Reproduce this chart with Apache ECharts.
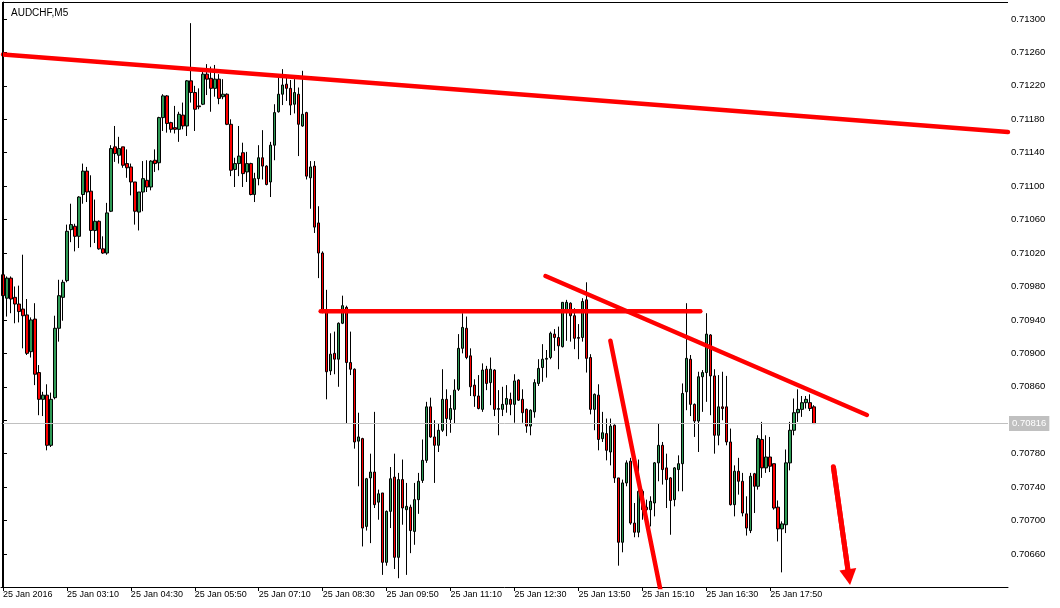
<!DOCTYPE html>
<html><head><meta charset="utf-8">
<script src="https://cdn.jsdelivr.net/npm/echarts@6/dist/echarts.min.js"></script>
<style>html,body{margin:0;padding:0;background:#fff}#c{width:1060px;height:608px}</style>
</head><body><div id="c"></div>
<script>
// ---- data ----
const symbolTitle = 'AUDCHF,M5';
const startMinutes = 110;          // 01:50, first bar
const barMinutes = 5;
const slotCount = 252;             // visible bar slots (204 bars + empty space on the right)
const tickLabels = ['25 Jan 2016','25 Jan 03:10','25 Jan 04:30','25 Jan 05:50','25 Jan 07:10','25 Jan 08:30',
  '25 Jan 09:50','25 Jan 11:10','25 Jan 12:30','25 Jan 13:50','25 Jan 15:10','25 Jan 16:30','25 Jan 17:50'];
const tickEvery = 16;
const yTicks = [0.70660,0.70700,0.70740,0.70780,0.70820,0.70860,0.70900,0.70940,0.70980,0.71020,0.71060,0.71100,0.71140,0.71180,0.71220,0.71260,0.71300];
const yMin = 0.706205, yMax = 0.713203;
const priceNow = 0.70816;

const opens = [0.70994,0.70966,0.70990,0.70967,0.70959,0.70953,0.70946,0.70902,0.70941,0.70877,
0.70845,0.70850,0.70790,0.70847,0.70930,0.70967,0.70987,0.71048,0.71052,0.71040,
0.71090,0.71118,0.71094,0.71047,0.71058,0.71025,0.71020,0.71070,0.71147,0.71137,
0.71147,0.71127,0.71123,0.71105,0.71069,0.71093,0.71107,0.71099,0.71131,0.71128,
0.71182,0.71208,0.71176,0.71170,0.71168,0.71185,0.71172,0.71226,0.71212,0.71196,
0.71198,0.71234,0.71229,0.71217,0.71228,0.71207,0.71210,0.71174,0.71120,0.71127,
0.71140,0.71117,0.71127,0.71090,0.71109,0.71134,0.71124,0.71105,0.71149,0.71189,
0.71210,0.71222,0.71217,0.71198,0.71210,0.71172,0.71188,0.71110,0.71124,0.71056,
0.71020,0.70951,0.70879,0.70900,0.70893,0.70936,0.70955,0.70889,0.70881,0.70795,
0.70798,0.70693,0.70751,0.70758,0.70722,0.70733,0.70650,0.70711,0.70752,0.70656,
0.70749,0.70713,0.70716,0.70687,0.70725,0.70748,0.70772,0.70836,0.70800,0.70790,
0.70808,0.70845,0.70821,0.70833,0.70857,0.70906,0.70930,0.70897,0.70862,0.70849,
0.70833,0.70881,0.70865,0.70880,0.70833,0.70833,0.70839,0.70845,0.70839,0.70868,
0.70845,0.70833,0.70813,0.70830,0.70864,0.70883,0.70893,0.70895,0.70923,0.70919,
0.70908,0.70950,0.70960,0.70945,0.70919,0.70919,0.70964,0.70895,0.70833,0.70850,
0.70798,0.70804,0.70782,0.70814,0.70751,0.70674,0.70745,0.70771,0.70697,0.70686,
0.70735,0.70716,0.70713,0.70721,0.70769,0.70790,0.70763,0.70751,0.70725,0.70761,
0.70768,0.70854,0.70893,0.70839,0.70819,0.70872,0.70877,0.70922,0.70873,0.70802,
0.70836,0.70836,0.70794,0.70719,0.70759,0.70747,0.70708,0.70688,0.70756,0.70741,
0.70797,0.70763,0.70776,0.70768,0.70716,0.70690,0.70695,0.70769,0.70808,0.70829,
0.70833,0.70841,0.70841,0.70836];
const closes = [0.70969,0.70990,0.70965,0.70959,0.70950,0.70945,0.70900,0.70940,0.70875,0.70845,
0.70850,0.70790,0.70845,0.70930,0.70969,0.70985,0.71046,0.71054,0.71040,0.71087,
0.71118,0.71093,0.71047,0.71058,0.71025,0.71020,0.71068,0.71145,0.71139,0.71145,
0.71125,0.71122,0.71105,0.71070,0.71093,0.71109,0.71099,0.71130,0.71127,0.71182,
0.71208,0.71175,0.71168,0.71168,0.71186,0.71172,0.71226,0.71212,0.71192,0.71195,
0.71234,0.71228,0.71217,0.71228,0.71205,0.71210,0.71174,0.71119,0.71127,0.71136,
0.71115,0.71127,0.71090,0.71109,0.71134,0.71124,0.71102,0.71149,0.71188,0.71210,
0.71221,0.71217,0.71197,0.71212,0.71174,0.71186,0.71112,0.71123,0.71051,0.71020,
0.70951,0.70878,0.70899,0.70893,0.70936,0.70957,0.70889,0.70881,0.70794,0.70800,
0.70691,0.70750,0.70758,0.70719,0.70732,0.70650,0.70711,0.70750,0.70656,0.70749,
0.70715,0.70717,0.70688,0.70725,0.70747,0.70772,0.70836,0.70800,0.70790,0.70808,
0.70845,0.70822,0.70834,0.70856,0.70906,0.70931,0.70895,0.70860,0.70849,0.70834,
0.70880,0.70864,0.70881,0.70833,0.70834,0.70839,0.70846,0.70839,0.70867,0.70844,
0.70829,0.70813,0.70832,0.70865,0.70882,0.70893,0.70894,0.70924,0.70919,0.70909,
0.70961,0.70961,0.70945,0.70918,0.70918,0.70962,0.70894,0.70833,0.70851,0.70797,
0.70805,0.70784,0.70813,0.70751,0.70674,0.70745,0.70769,0.70697,0.70686,0.70735,
0.70713,0.70713,0.70723,0.70769,0.70790,0.70761,0.70749,0.70724,0.70763,0.70768,
0.70852,0.70894,0.70839,0.70819,0.70872,0.70877,0.70923,0.70873,0.70802,0.70836,
0.70834,0.70794,0.70719,0.70759,0.70747,0.70709,0.70691,0.70753,0.70741,0.70798,
0.70763,0.70776,0.70765,0.70715,0.70690,0.70696,0.70769,0.70808,0.70829,0.70833,
0.70841,0.70845,0.70834,0.70816];
const lows = [0.70962,0.70944,0.70948,0.70936,0.70937,0.70906,0.70898,0.70895,0.70862,0.70826,
0.70825,0.70784,0.70788,0.70845,0.70914,0.70939,0.70985,0.71033,0.71022,0.71026,
0.71079,0.71081,0.71027,0.71032,0.71024,0.71019,0.71018,0.71069,0.71129,0.71127,
0.71122,0.71110,0.71089,0.71054,0.71047,0.71070,0.71093,0.71095,0.71117,0.71119,
0.71166,0.71164,0.71164,0.71163,0.71153,0.71168,0.71160,0.71200,0.71166,0.71192,
0.71197,0.71209,0.71189,0.71207,0.71198,0.71204,0.71173,0.71112,0.71099,0.71112,
0.71099,0.71105,0.71089,0.71081,0.71101,0.71108,0.71101,0.71087,0.71131,0.71188,
0.71197,0.71202,0.71185,0.71187,0.71136,0.71171,0.71108,0.71073,0.71044,0.70990,
0.70948,0.70845,0.70874,0.70875,0.70860,0.70935,0.70816,0.70874,0.70786,0.70741,
0.70669,0.70688,0.70673,0.70715,0.70701,0.70635,0.70646,0.70691,0.70642,0.70631,
0.70695,0.70635,0.70661,0.70671,0.70708,0.70745,0.70769,0.70799,0.70745,0.70782,
0.70806,0.70801,0.70805,0.70816,0.70855,0.70900,0.70893,0.70849,0.70836,0.70833,
0.70830,0.70856,0.70838,0.70825,0.70802,0.70825,0.70829,0.70826,0.70817,0.70843,
0.70817,0.70805,0.70802,0.70823,0.70861,0.70866,0.70871,0.70893,0.70903,0.70881,
0.70907,0.70915,0.70914,0.70905,0.70893,0.70914,0.70877,0.70827,0.70808,0.70784,
0.70794,0.70772,0.70766,0.70745,0.70646,0.70662,0.70741,0.70695,0.70680,0.70680,
0.70701,0.70701,0.70693,0.70705,0.70747,0.70743,0.70715,0.70683,0.70717,0.70735,
0.70735,0.70832,0.70825,0.70800,0.70782,0.70830,0.70842,0.70826,0.70780,0.70790,
0.70820,0.70790,0.70718,0.70705,0.70731,0.70705,0.70682,0.70685,0.70709,0.70737,
0.70751,0.70757,0.70758,0.70713,0.70675,0.70638,0.70685,0.70760,0.70802,0.70818,
0.70824,0.70834,0.70831,0.70816];
const highs = [0.71010,0.70992,0.70992,0.70980,0.70981,0.71018,0.70965,0.70943,0.70960,0.70886,
0.70854,0.70863,0.70853,0.70945,0.70988,0.70988,0.71054,0.71079,0.71055,0.71088,
0.71127,0.71123,0.71113,0.71084,0.71059,0.71040,0.71080,0.71149,0.71172,0.71159,
0.71147,0.71144,0.71127,0.71105,0.71093,0.71130,0.71131,0.71131,0.71144,0.71183,
0.71210,0.71209,0.71177,0.71196,0.71189,0.71200,0.71227,0.71295,0.71220,0.71217,
0.71239,0.71246,0.71243,0.71245,0.71234,0.71228,0.71211,0.71180,0.71134,0.71172,
0.71152,0.71141,0.71128,0.71116,0.71149,0.71167,0.71125,0.71153,0.71198,0.71230,
0.71240,0.71230,0.71227,0.71228,0.71218,0.71238,0.71189,0.71130,0.71130,0.71076,
0.71022,0.70976,0.70924,0.70926,0.70937,0.70969,0.70957,0.70926,0.70882,0.70829,
0.70799,0.70751,0.70780,0.70830,0.70737,0.70733,0.70712,0.70764,0.70780,0.70757,
0.70773,0.70745,0.70719,0.70745,0.70757,0.70797,0.70842,0.70847,0.70820,0.70816,
0.70881,0.70857,0.70850,0.70869,0.70923,0.70948,0.70944,0.70906,0.70869,0.70874,
0.70888,0.70885,0.70895,0.70881,0.70856,0.70860,0.70862,0.70853,0.70875,0.70869,
0.70857,0.70834,0.70833,0.70869,0.70893,0.70911,0.70904,0.70926,0.70929,0.70932,
0.70961,0.70964,0.70961,0.70954,0.70935,0.70966,0.70985,0.70899,0.70852,0.70863,
0.70830,0.70822,0.70822,0.70815,0.70751,0.70749,0.70772,0.70775,0.70721,0.70773,
0.70737,0.70725,0.70729,0.70770,0.70816,0.70794,0.70780,0.70752,0.70764,0.70778,
0.70864,0.70960,0.70898,0.70840,0.70878,0.70880,0.70948,0.70923,0.70881,0.70874,
0.70878,0.70873,0.70810,0.70766,0.70775,0.70757,0.70729,0.70757,0.70757,0.70802,
0.70818,0.70802,0.70800,0.70768,0.70724,0.70699,0.70785,0.70818,0.70846,0.70857,
0.70849,0.70849,0.70851,0.70838];

// hand-drawn annotation lines, in [bar index, price]
const resistanceLine = [[0, 0.712575], [251.5, 0.711648]];
const supportLine    = [[79.5, 0.709503], [174.5, 0.709503]];
const fallingLine    = [[135.75, 0.709925], [216.2, 0.708263]];
const steepLine      = [[152, 0.709151], [164.6, 0.706150]];
const arrowLine      = [[207.8, 0.707644], [211.7, 0.706323]];

// ---- chart ----
const FONT = 'Liberation Sans';
const pad = n => (n < 10 ? '0' : '') + n;
const categories = [];
for (let i = 0; i < slotCount; i++) {
  const m = startMinutes + i * barMinutes;
  categories.push(pad(Math.floor(m / 60) % 24) + ':' + pad(m % 60));
}
const candles = opens.map((o, i) => [o, closes[i], lows[i], highs[i]]);
const showTick = idx => idx % tickEvery === 0 && idx / tickEvery < tickLabels.length;

const redLine = (data) => ({
  type: 'line', xAxisIndex: 1, yAxisIndex: 0, data, symbol: 'none', z: 5, clip: true,
  lineStyle: { color: '#ff0000', width: 4.5, cap: 'round' }, silent: true
});

const chart = echarts.init(document.getElementById('c'), null, { renderer: 'canvas' });
chart.setOption({
  animation: false,
  backgroundColor: '#ffffff',
  title: { text: symbolTitle, left: 6, top: 3,
    textStyle: { fontSize: 10, fontWeight: 'normal', color: '#000', fontFamily: FONT } },
  grid: { left: 0, right: 52, top: 2, bottom: 21 },
  xAxis: [{
    type: 'category', data: categories, boundaryGap: true,
    axisLine: { show: true, lineStyle: { color: '#000', width: 1 } },
    axisTick: { show: true, interval: (i) => showTick(i), alignWithLabel: true, length: 4, lineStyle: { color: '#000' } },
    axisLabel: { interval: (i) => showTick(i), formatter: (v, i) => tickLabels[i / tickEvery] || '',
      align: 'left', margin: 3, fontSize: 9, color: '#000', fontFamily: FONT },
    splitLine: { show: false }
  }, {
    type: 'value', min: -0.5, max: slotCount - 0.5, show: false
  }],
  yAxis: [{
    type: 'value', position: 'right', min: yMin, max: yMax, scale: true,
    axisLine: { show: true, lineStyle: { color: '#000', width: 1 } },
    axisTick: { show: true, length: 4, customValues: yTicks, lineStyle: { color: '#000' } },
    axisLabel: { customValues: yTicks, formatter: v => v.toFixed(5), margin: 3,
      fontSize: 9.5, color: '#000', fontFamily: FONT },
    splitLine: { show: false }
  }],
  graphic: [
    { type: 'line', shape: { x1: 2.5, y1: 2, x2: 2.5, y2: 587 }, style: { stroke: '#000', lineWidth: 1 }, z: 10 },
    { type: 'line', shape: { x1: 2, y1: 2.5, x2: 1008, y2: 2.5 }, style: { stroke: '#000', lineWidth: 1 }, z: 10 }
  ],
  series: [
    {
      // current bid price line
      type: 'line', xAxisIndex: 1, yAxisIndex: 0, data: [], symbol: 'none', silent: true, z: 1,
      markLine: {
        silent: true, symbol: 'none', animation: false, precision: 5,
        lineStyle: { color: '#c0c0c0', width: 1, type: 'solid' },
        label: { position: 'end', formatter: () => priceNow.toFixed(5), color: '#ffffff',
          backgroundColor: '#c0c0c0', padding: [3, 3, 2, 3], distance: 1,
          fontSize: 9.5, fontFamily: FONT },
        data: [{ yAxis: priceNow }]
      }
    },
    {
      type: 'candlestick', xAxisIndex: 0, yAxisIndex: 0, data: candles, barWidth: 3, z: 3,
      itemStyle: { color: '#2e9a55', color0: '#ff0000', borderColor: '#000', borderColor0: '#000', borderWidth: 1 }
    },
    redLine(resistanceLine),
    redLine(supportLine),
    redLine(fallingLine),
    redLine(steepLine),
    {
      type: 'line', xAxisIndex: 1, yAxisIndex: 0, data: arrowLine, symbol: 'none', z: 5, silent: true,
      lineStyle: { color: '#ff0000', width: 5, cap: 'round' },
      markLine: {
        silent: true, animation: false, precision: 5, symbol: ['none', 'triangle'], symbolSize: [17, 16],
        lineStyle: { color: '#ff0000', width: 5, type: 'solid' }, label: { show: false },
        data: [[{ coord: arrowLine[0] }, { coord: arrowLine[1] }]]
      }
    }
  ]
});
</script></body></html>
